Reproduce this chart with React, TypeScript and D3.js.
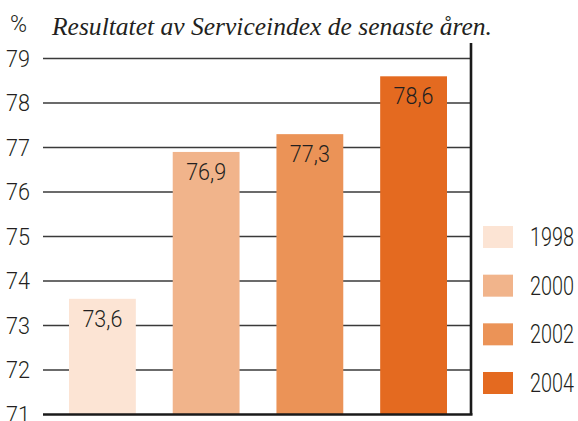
import React from "react";
import * as d3 from "d3";

const years = ["1998", "2000", "2002", "2004"];
const values = [73.6, 76.9, 77.3, 78.6];
const valueLabels = ["73,6", "76,9", "77,3", "78,6"];
const colors = ["#FCE4D4", "#F1B48B", "#EB9357", "#E46A20"];
const yTicks = [71, 72, 73, 74, 75, 76, 77, 78, 79];
const title = "Resultatet av Serviceindex de senaste åren.";
const unit = "%";

const W = 578;
const H = 421;
const sans = "Roboto, 'Liberation Sans', sans-serif";
const textColor = "#231F20";

export default function App() {
  const x0 = 43, x1 = 471;
  const y = d3.scaleLinear().domain([71, 79]).range([414.5, 58.5]);
  const x = d3.scaleBand<string>().domain(years).range([x0 + 26, x1 - 24]).paddingInner(37 / 104).paddingOuter(0);
  const legendY = d3.scalePoint<string>().domain(years).range([226, 372]);

  return (
    <svg width={W} height={H} style={{ position: "absolute", left: 0, top: 0, background: "#fff" }}>
      <text x={10} y={32} fontFamily={sans} fontWeight={300} fontSize={23} fill={textColor}>{unit}</text>
      <text x={52} y={35} fontFamily="'Liberation Serif', 'DejaVu Serif', serif" fontStyle="italic" fontSize={26} fill={textColor} textLength={440} lengthAdjust="spacingAndGlyphs">{title}</text>
      {yTicks.map((t) => (
        <g key={t}>
          {t !== 71 && (
            <line x1={x0} x2={x1} y1={y(t)} y2={y(t)} stroke="#3a3a3a" strokeWidth={1.6} />
          )}
          <text x={30} y={y(t)} dy="0.36em" textAnchor="end" fontFamily={sans} fontWeight={300} fontSize={23} fill={textColor} textLength={24} lengthAdjust="spacingAndGlyphs">{t}</text>
        </g>
      ))}
      {years.map((yr, i) => (
        <g key={yr}>
          <rect x={x(yr)} y={y(values[i])} width={x.bandwidth()} height={y(71) - y(values[i])} fill={colors[i]} />
          <text x={(x(yr) as number) + x.bandwidth() / 2} y={y(values[i]) + 28} textAnchor="middle" fontFamily={sans} fontWeight={300} fontSize={24} fill={textColor} textLength={40} lengthAdjust="spacingAndGlyphs">{valueLabels[i]}</text>
        </g>
      ))}
      <line x1={x0} x2={x1 + 1.5} y1={y(71)} y2={y(71)} stroke="#1a1a1a" strokeWidth={2.6} />
      <line x1={x1} x2={x1} y1={43} y2={y(71)} stroke="#1a1a1a" strokeWidth={2.6} />
      {years.map((yr, i) => (
        <g key={"lg" + yr}>
          <rect x={483} y={legendY(yr)} width={30} height={22} fill={colors[i]} />
          <text x={530} y={(legendY(yr) as number) + 11} dy="0.36em" fontFamily={sans} fontWeight={300} fontSize={25} fill={textColor} textLength={44} lengthAdjust="spacingAndGlyphs">{yr}</text>
        </g>
      ))}
    </svg>
  );
}
